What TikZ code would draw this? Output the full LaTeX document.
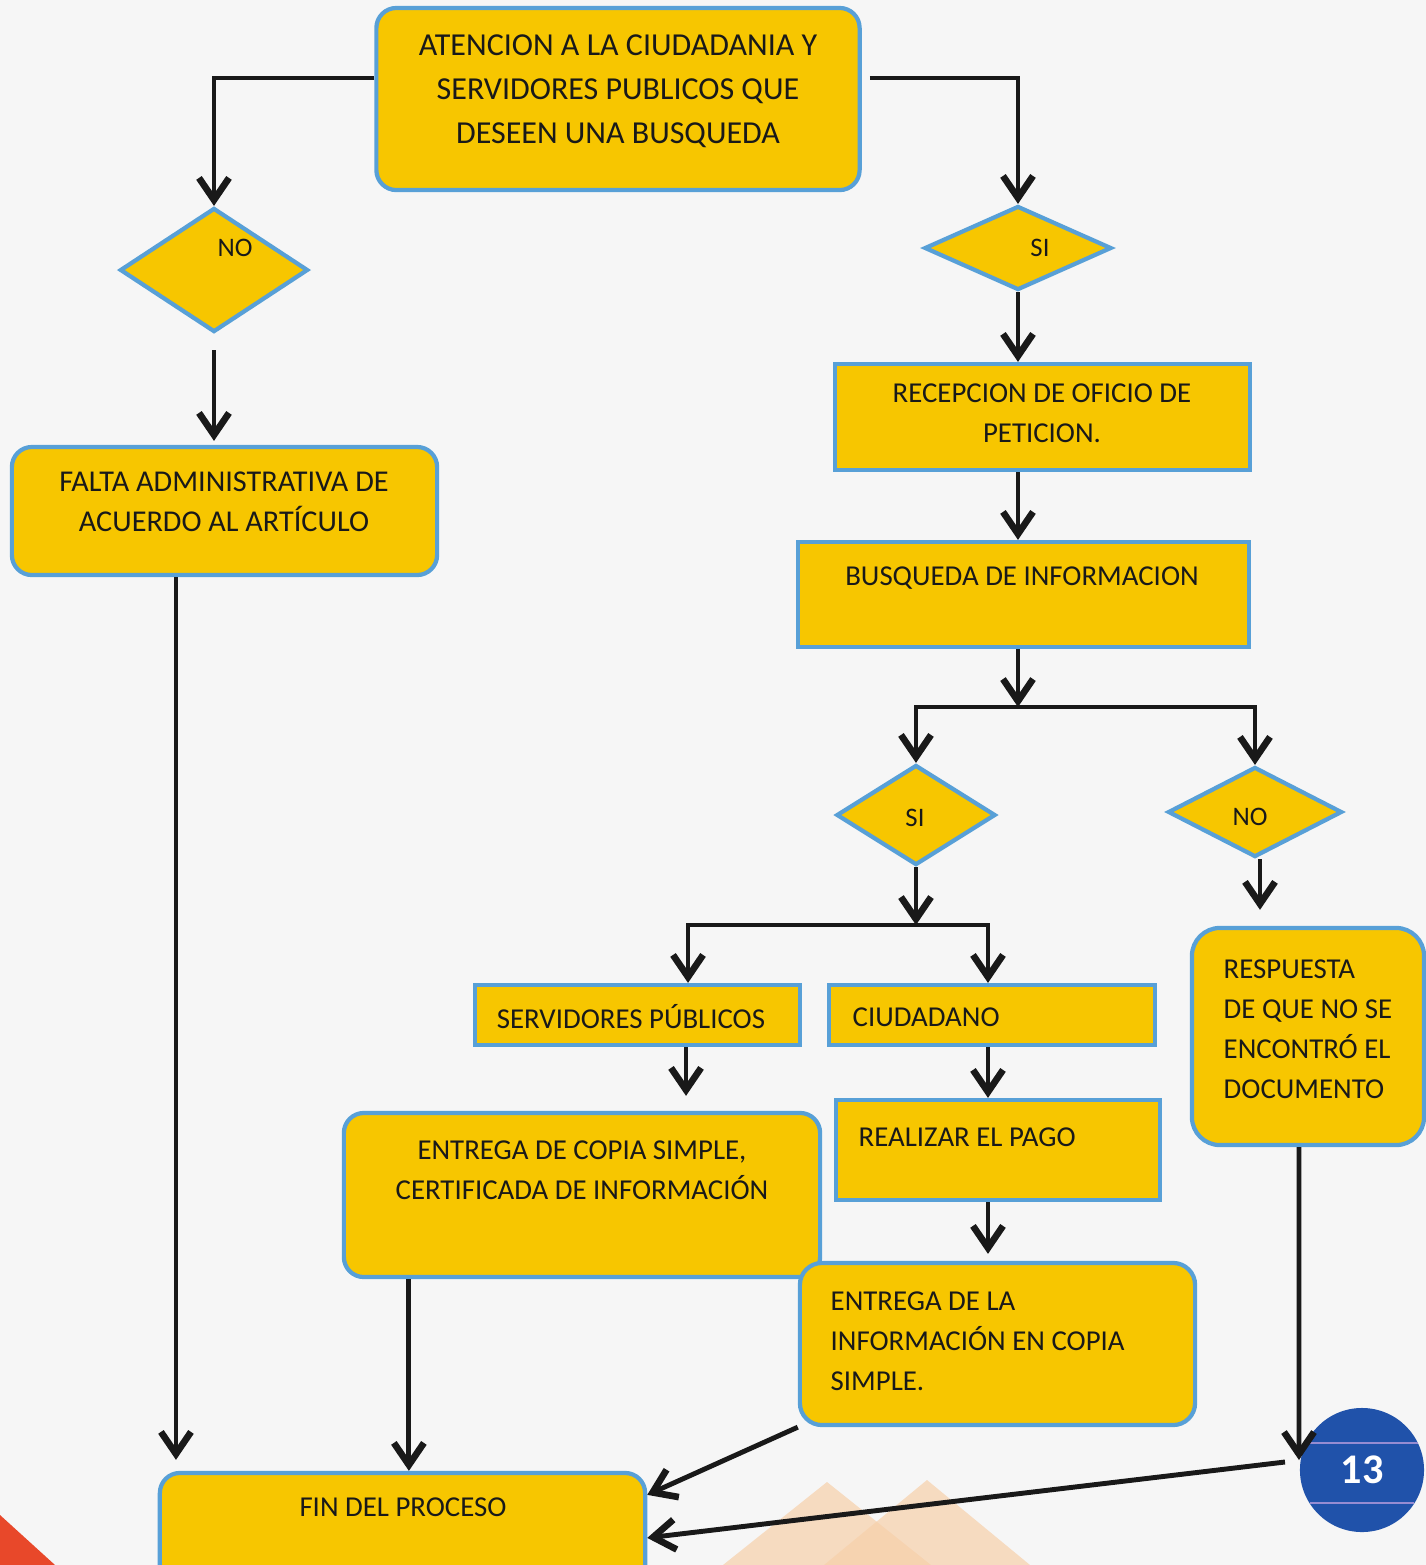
\documentclass[tikz,border=0pt]{standalone}
\usepackage{fontspec}
\setmainfont{Carlito}
\usetikzlibrary{arrows.meta,shapes.geometric}

\definecolor{boxgold}{RGB}{247,198,0}
\definecolor{boxblue}{RGB}{88,160,215}
\definecolor{pageblue}{RGB}{32,82,170}
\definecolor{paper}{RGB}{246,246,246}
\definecolor{peach}{RGB}{246,208,170}
\definecolor{redtri}{RGB}{232,72,42}
\definecolor{lavline}{RGB}{150,140,210}
\definecolor{inkblack}{RGB}{25,25,25}

\newcommand{\flowfont}{\fontsize{8.2}{11.4}\selectfont}

\tikzset{
  rbox/.style={draw=boxblue, fill=boxgold, line width=1.2pt, rounded corners=0.2cm, inner sep=0pt},
  sbox/.style={draw=boxblue, fill=boxgold, line width=1.2pt, inner sep=0pt},
  dbox/.style={diamond, draw=boxblue, fill=boxgold, line width=1.2pt, inner sep=0pt},
  txt/.style={font=\flowfont, text=inkblack, align=center, inner sep=0pt},
  ltxt/.style={font=\flowfont, text=inkblack, align=left, anchor=west, inner sep=0pt},
  dtxt/.style={font=\fontsize{7.6}{9}\selectfont, text=inkblack, inner sep=0pt},
  arr/.style={draw=inkblack, line width=1.4pt,
              -{Straight Barb[length=2.2mm,width=3mm,line width=1.9pt]}}
}

\begin{document}
\begin{tikzpicture}[x=0.01cm, y=-0.01cm]
  \useasboundingbox (0,0) rectangle (1426,1565);
  \clip (0,0) rectangle (1426,1565);
  \fill[paper] (0,0) rectangle (1426,1565);

  % background marks
  \fill[redtri] (0,1515) -- (55,1565) -- (0,1565) -- cycle;
  \fill[peach, opacity=.7] (827,1482) -- (931,1565) -- (723,1565) -- cycle;
  \fill[peach, opacity=.7] (927,1480) -- (1030,1565) -- (824,1565) -- cycle;

  % boxes
  \node[rbox, minimum width=4.83cm, minimum height=1.82cm] (start)  at (618,99)    {};
  \node[rbox, minimum width=4.25cm, minimum height=1.28cm] (falta)  at (224.5,511) {};
  \node[sbox, minimum width=4.15cm, minimum height=1.06cm] (recep)  at (1042.5,417) {};
  \node[sbox, minimum width=4.51cm, minimum height=1.05cm] (busq)   at (1023.5,594.5) {};
  \node[sbox, minimum width=3.25cm, minimum height=0.60cm] (serv)   at (637.5,1015) {};
  \node[sbox, minimum width=3.26cm, minimum height=0.60cm] (ciud)   at (992,1015)  {};
  \node[rbox, minimum width=4.76cm, minimum height=1.64cm] (copia)  at (582,1195)  {};
  \node[sbox, minimum width=3.24cm, minimum height=1.00cm] (pago)   at (998,1150)  {};
  \node[rbox, minimum width=3.95cm, minimum height=1.62cm, rounded corners=0.22cm] (entinf) at (997.5,1344) {};
  \node[rbox, minimum width=2.32cm, minimum height=2.17cm, rounded corners=0.28cm] (resp)   at (1308,1036.5) {};
  \node[rbox, minimum width=4.85cm, minimum height=1.60cm] (fin)    at (402.5,1553) {};

  % decisions
  \node[dbox, minimum width=1.88cm, minimum height=1.24cm] (no1) at (214,270)  {};
  \node[dbox, minimum width=1.87cm, minimum height=0.84cm] (si1) at (1018,248) {};
  \node[dbox, minimum width=1.59cm, minimum height=1.00cm] (si2) at (916,815)  {};
  \node[dbox, minimum width=1.74cm, minimum height=0.90cm] (no2) at (1255,812) {};

  % texts
  \node[txt, font=\fontsize{9.1}{12.5}\selectfont] (t-start) at (618,91)
       {ATENCION A LA CIUDADANIA Y\\SERVIDORES PUBLICOS QUE\\DESEEN UNA BUSQUEDA};
  \node[txt, font=\fontsize{8.6}{11.4}\selectfont] (t-falta) at (224,502)
       {FALTA ADMINISTRATIVA DE\\ACUERDO AL ARTÍCULO};
  \node[txt]  (t-recep)  at (1042,413) {RECEPCION DE OFICIO DE\\PETICION.};
  \node[txt]  (t-busq)   at (1022,578) {BUSQUEDA DE INFORMACION};
  \node[txt]  (t-serv)   at (631,1017) {SERVIDORES PÚBLICOS};
  \node[ltxt] (t-ciud)   at (852,1017) {CIUDADANO};
  \node[txt]  (t-copia)  at (582,1170) {ENTREGA DE COPIA SIMPLE,\\CERTIFICADA DE INFORMACIÓN};
  \node[ltxt] (t-pago)   at (858,1137) {REALIZAR EL PAGO};
  \node[ltxt] (t-entinf) at (830,1341) {ENTREGA DE LA\\INFORMACIÓN EN COPIA\\SIMPLE.};
  \node[ltxt] (t-resp)   at (1223,1029.5) {RESPUESTA\\DE QUE NO SE\\ENCONTRÓ EL\\DOCUMENTO};
  \node[txt]  (t-fin)    at (403,1507) {FIN DEL PROCESO};

  \node[dtxt] (t-no1) at (235,248)  {NO};
  \node[dtxt] (t-si1) at (1040,248) {SI};
  \node[dtxt] (t-si2) at (915,818)  {SI};
  \node[dtxt] (t-no2) at (1250,817) {NO};

  % page number
  \node[circle, fill=pageblue, minimum size=1.24cm, inner sep=0pt, text=white,
        font=\fontsize{12}{14}\selectfont\bfseries] (page) at (1362,1470) {13};
  \draw[lavline, line width=.4pt] (1306,1443) -- (1418,1443);
  \draw[lavline, line width=.4pt] (1310,1503) -- (1414,1503);

  % connectors
  \coordinate (split1) at (1018,707);
  \coordinate (split2) at (916,925);
  \coordinate (turn)   at (1299,1460);
  \coordinate (back)   at (1285,1462);

  \draw[arr] ([yshift=0.21cm]start.west) -| (no1.north);
  \draw[arr] ([xshift=0.08cm,yshift=0.21cm]start.east) -| (si1.north);
  \draw[arr] ([yshift=-0.16cm]no1.south) -- ([yshift=0.04cm]no1.south |- falta.north);
  \draw[arr] ([xshift=-0.485cm]falta.south) -- ([xshift=-0.485cm,yshift=0.11cm]falta.south |- fin.north);

  \draw[arr] (si1.south) -- (si1.south |- recep.north);
  \draw[arr] (si1.south |- recep.south) -- (si1.south |- busq.north);
  \draw[arr] (si1.south |- busq.south) -- (split1);
  \draw[arr] (split1) -| (si2.north);
  \draw[arr] (split1) -| (no2.north);

  \draw[arr] (si2.south) -- (split2);
  \draw[arr] (split2) -| ([xshift=0.505cm]serv.north);
  \draw[arr] (split2) -| ([xshift=-0.04cm]ciud.north);
  \draw[arr] ([xshift=0.05cm]no2.south) -- ([xshift=0.05cm,yshift=0.16cm]no2.south |- resp.north);

  \draw[arr] ([xshift=0.485cm]serv.south) -- ([xshift=0.485cm,yshift=0.15cm]serv.south |- copia.north);
  \draw[arr] ([xshift=-0.04cm]ciud.south) -- ([xshift=-0.04cm]ciud.south |- pago.north);
  \draw[arr] ([xshift=-0.1cm]pago.south) -- ([xshift=-0.1cm,yshift=0.07cm]pago.south |- entinf.north);

  \draw[arr] ([xshift=-1.73cm]copia.south) -- ([xshift=-1.73cm]copia.south |- fin.north);
  \draw[arr] (entinf.south west) -- ([yshift=-0.24cm]fin.north east);
  \draw[arr] ([xshift=-0.09cm]resp.south) -- (turn);
  \draw[arr] (back) -- ([yshift=-0.67cm]fin.north east);
\end{tikzpicture}
\end{document}
